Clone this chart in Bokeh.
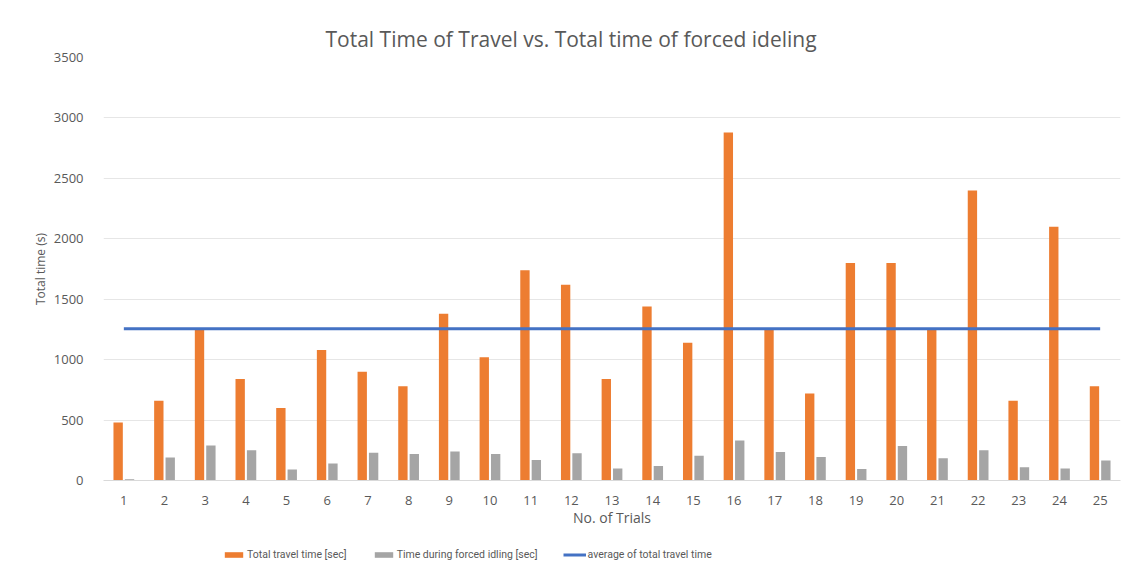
from bokeh.plotting import figure
from bokeh.models import Legend, FixedTicker, Range1d
from bokeh.layouts import column
from bokeh.transform import dodge
from bokeh.embed import file_html
from bokeh.resources import INLINE

trials = [str(i) for i in range(1, 26)]
total_travel = [480, 660, 1250, 840, 600, 1080, 900, 780, 1380, 1020, 1740, 1620, 840,
                1440, 1140, 2880, 1250, 720, 1800, 1800, 1250, 2400, 660, 2100, 780]
forced_idling = [10, 190, 290, 250, 90, 140, 230, 220, 240, 220, 170, 225, 100,
                 120, 205, 330, 235, 195, 95, 285, 185, 250, 110, 100, 165]
average_total = 1256
y_ticks = [0, 500, 1000, 1500, 2000, 2500, 3000, 3500]
series_names = ["Total travel time [sec]", "Time during forced idling [sec]",
                "average of total travel time"]

FONT = "Open Sans"
TXT = "#595959"
ORANGE, GRAY, BLUE = "#ED7D31", "#A5A5A5", "#4472C4"

p = figure(width=1130, height=530, x_range=trials, y_range=Range1d(0, 3500),
           output_backend="svg", toolbar_location=None,
           min_border_left=103, min_border_right=10, min_border_top=57, min_border_bottom=50)

p.title.text = "Total Time of Travel vs. Total time of forced ideling"
p.title.align = "left"
p.title.offset = 222
p.title.text_font = FONT
p.title.text_font_size = "21px"
p.title.text_font_style = "normal"
p.title.text_color = TXT
p.title.standoff = 10

src = dict(trial=trials, total=total_travel, idle=forced_idling, avg=[average_total] * len(trials))

p.vbar(x=dodge("trial", -0.14, range=p.x_range), top="total", width=0.23, source=src,
       fill_color=ORANGE, line_color=None)
p.vbar(x=dodge("trial", 0.14, range=p.x_range), top="idle", width=0.23, source=src,
       fill_color=GRAY, line_color=None)
p.line(x="trial", y="avg", source=src, line_color=BLUE, line_width=3)

p.yaxis.ticker = FixedTicker(ticks=y_ticks)
p.yaxis.axis_line_color = None
p.yaxis.major_tick_line_color = None
p.yaxis.minor_tick_line_color = None
p.yaxis.major_label_standoff = 14
p.yaxis.major_label_text_font = FONT
p.yaxis.major_label_text_font_size = "13px"
p.yaxis.major_label_text_color = TXT
p.yaxis.axis_label = "Total time (s)"
p.yaxis.axis_label_text_font = FONT
p.yaxis.axis_label_text_font_size = "12px"
p.yaxis.axis_label_text_font_style = "normal"
p.yaxis.axis_label_text_color = TXT
p.yaxis.axis_label_standoff = 2

p.xaxis.axis_line_color = "#D9D9D9"
p.xaxis.major_tick_line_color = None
p.xaxis.minor_tick_line_color = None
p.xaxis.major_label_standoff = 9
p.xaxis.major_label_text_font = FONT
p.xaxis.major_label_text_font_size = "13px"
p.xaxis.major_label_text_color = TXT
p.xaxis.axis_label = "No. of Trials"
p.xaxis.axis_label_text_font = FONT
p.xaxis.axis_label_text_font_size = "14px"
p.xaxis.axis_label_text_font_style = "normal"
p.xaxis.axis_label_text_color = TXT
p.xaxis.axis_label_standoff = 0

p.xgrid.grid_line_color = None
p.ygrid.grid_line_color = "#E6E6E6"
p.outline_line_color = None

# legend strip below the chart (keys use hidden renderers of the same data)
lg = figure(width=1130, height=43, x_range=Range1d(0, 1), y_range=Range1d(0, 1),
            output_backend="svg", toolbar_location=None, min_border=0)
lg.axis.visible = False
lg.grid.visible = False
lg.outline_line_color = None
k1 = lg.vbar(x="total", top="idle", width=0.23, source=src,
             fill_color=ORANGE, line_color=None, visible=False)
k2 = lg.vbar(x="total", top="idle", width=0.23, source=src,
             fill_color=GRAY, line_color=None, visible=False)
k3 = lg.line(x="total", y="idle", source=src, line_color=BLUE, line_width=3, visible=False)

legend = Legend(items=[(series_names[0], [k1]), (series_names[1], [k2]), (series_names[2], [k3])],
                orientation="horizontal", location=(119, 12),
                background_fill_alpha=0, border_line_color=None,
                inactive_fill_alpha=0,
                padding=0, margin=0, spacing=25, label_standoff=2,
                glyph_width=23, glyph_height=7, label_height=12,
                label_text_font="Roboto", label_text_font_size="10.5px",
                label_text_color=TXT)
lg.add_layout(legend, "center")

open("out.html", "w").write(file_html(column(p, lg, spacing=0), INLINE))
